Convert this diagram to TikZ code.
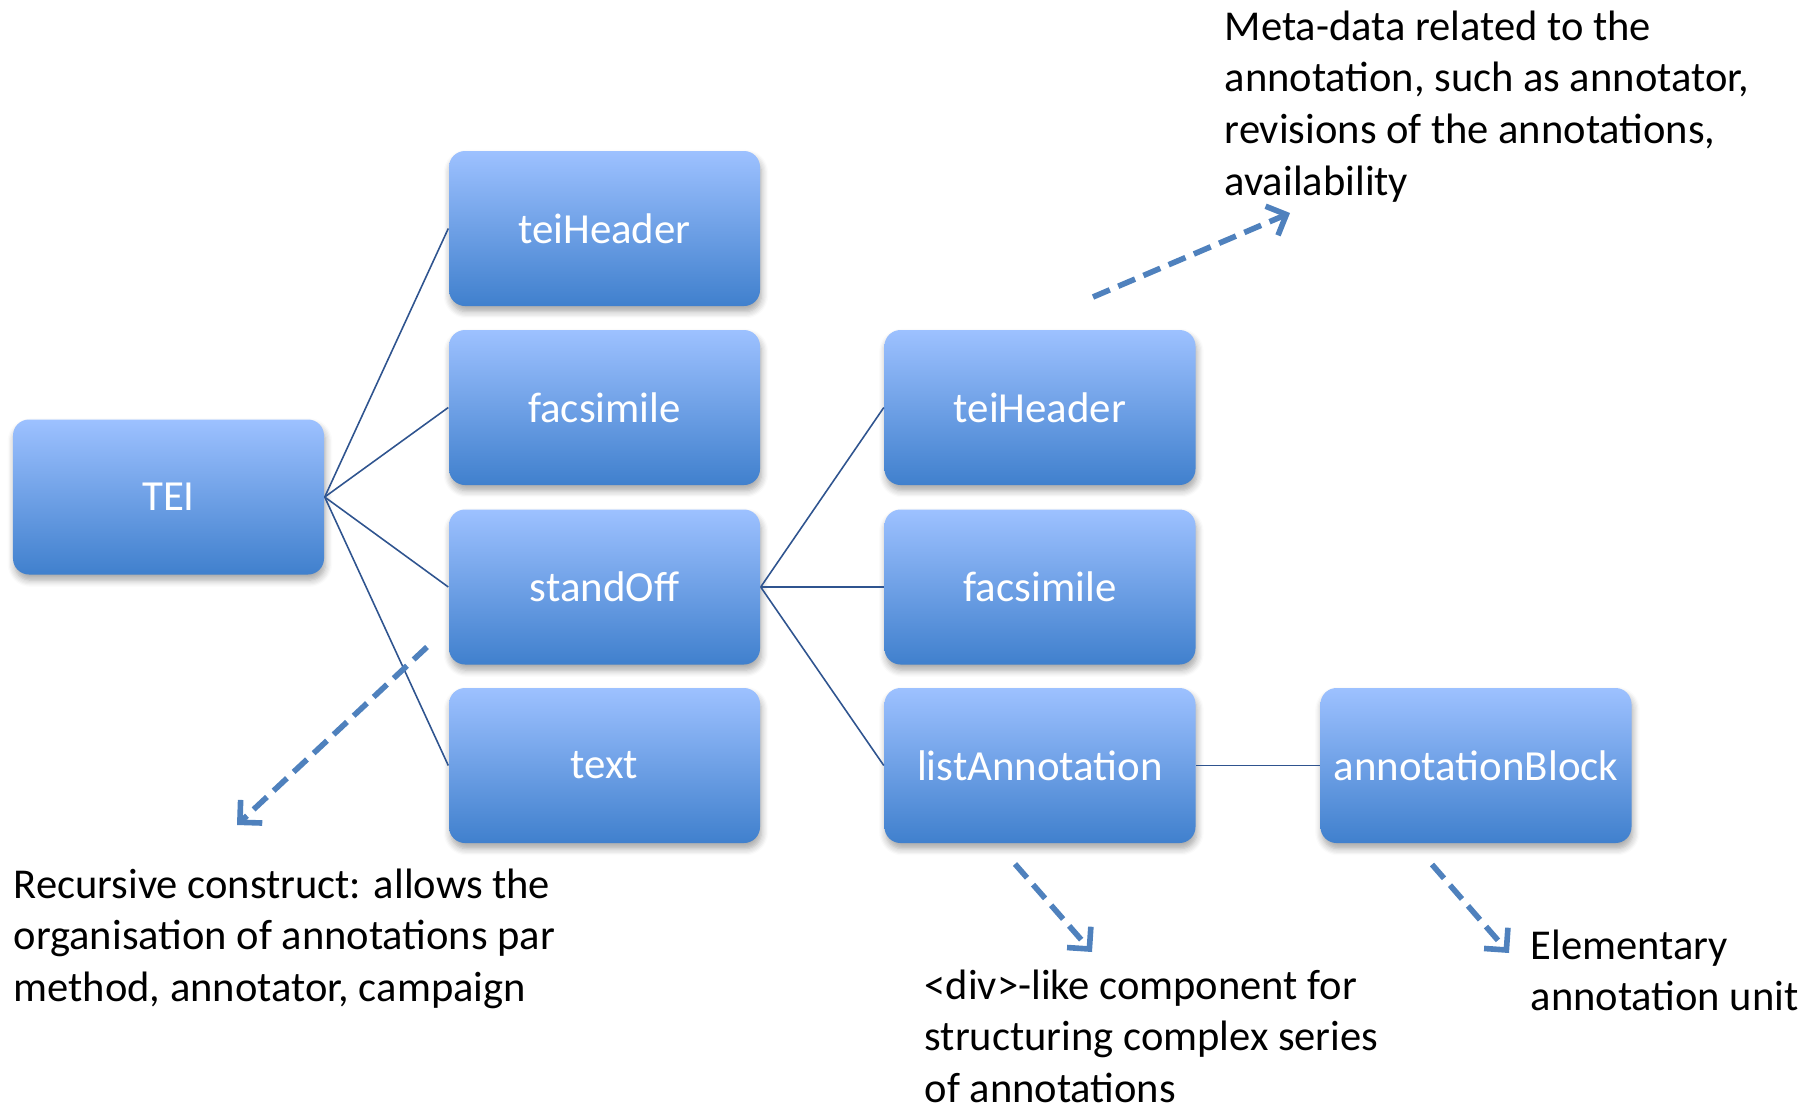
\documentclass[tikz,border=0pt]{standalone}
\usepackage{fontspec}
\setmainfont{Carlito}
\usetikzlibrary{arrows.meta,shadows.blur}

\definecolor{boxtop}{RGB}{157,193,255}
\definecolor{boxbottom}{RGB}{64,128,205}
\definecolor{linkblue}{RGB}{47,84,143}
\definecolor{noteblue}{RGB}{79,129,189}

\begin{document}
\begin{tikzpicture}[
    elem/.style={rectangle, rounded corners=0.16cm, minimum width=3.11cm, minimum height=1.55cm,
      top color=boxtop, bottom color=boxbottom, text=white, font=\fontsize{12.2}{15}\selectfont,
      blur shadow={shadow xshift=0.4pt, shadow yshift=-1.6pt, shadow blur steps=6, shadow opacity=35}},
    link/.style={draw=linkblue, line width=0.45pt},
    note/.style={draw=noteblue, line width=1.6pt, dash pattern=on 5.2pt off 2.6pt,
      -{Straight Barb[length=4.5pt, width=9pt, line width=1.6pt]}},
    comment/.style={align=left, anchor=north west, inner sep=0pt, font=\fontsize{12.1}{14.7}\selectfont}]
     \useasboundingbox (0,0) rectangle (18.18,-11.05);

     \node[elem] (tei) at (1.685,-4.97) {TEI};
     \node[elem] (header) at (6.045,-2.285) {teiHeader};
     \node[elem] (facs) at (6.045,-4.075) {facsimile};
     \node[elem] (standoff) at (6.045,-5.87) {standOff};
     \node[elem] (text) at (6.045,-7.655) {text};
     \node[elem] (subheader) at (10.40,-4.075) {teiHeader};
     \node[elem] (subfacs) at (10.40,-5.87) {facsimile};
     \node[elem] (listann) at (10.40,-7.655) {listAnnotation};
     \node[elem] (annblock) at (14.76,-7.655) {annotationBlock};

     \draw[link] (tei.east) -- (header.west);
     \draw[link] (tei.east) -- (facs.west);
     \draw[link] (tei.east) -- (standoff.west);
     \draw[link] (tei.east) -- (text.west);
     \draw[link] (standoff.east) -- (subheader.west);
     \draw[link] (standoff.east) -- (subfacs.west);
     \draw[link] (standoff.east) -- (listann.west);
     \draw[link] (listann.east) -- (annblock.west);

     % comments
     \node[comment] (metanote) at (12.24,-0.10) {Meta-data related to the\\annotation, such as annotator,\\revisions of the annotations,\\availability};
     \node[comment] (recnote) at (0.13,-8.68) {Recursive construct: allows the\\organisation of annotations par\\method, annotator, campaign};
     \node[comment] (divnote) at (9.24,-9.69) {<div>-like component for\\structuring complex series\\of annotations};
     \node[comment] (elemnote) at (15.30,-9.29) {Elementary\\annotation unit};

     \coordinate (m1) at (10.93,-2.97);  \coordinate (m2) at (12.90,-2.13);
     \coordinate (r1) at (4.27,-6.47);   \coordinate (r2) at (2.37,-8.25);
     \coordinate (d1) at (10.15,-8.64);  \coordinate (d2) at (10.92,-9.52);
     \coordinate (e1) at (14.32,-8.645); \coordinate (e2) at (15.09,-9.53);
     \draw[note] (m1) -- (m2);
     \draw[note] (r1) -- (r2);
     \draw[note] (d1) -- (d2);
     \draw[note] (e1) -- (e2);
\end{tikzpicture}
\end{document}
